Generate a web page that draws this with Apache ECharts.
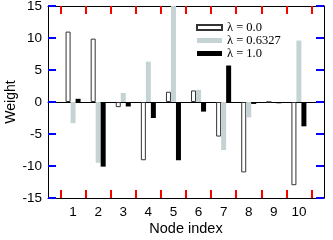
<!DOCTYPE html>
<html>
<head>
<meta charset="utf-8">
<script src="https://cdn.jsdelivr.net/npm/echarts@6/dist/echarts.min.js"></script>
<style>
  html, body { margin: 0; padding: 0; background: #fff; }
  #main { width: 333px; height: 240px; }
</style>
</head>
<body>
<div id="main"></div>
<script>
// node positions 0..11, bars live on 1..10
var nodes = ['0', '1', '2', '3', '4', '5', '6', '7', '8', '9', '10', '11'];
var seriesNames = ['λ = 0.0', 'λ = 0.6327', 'λ = 1.0'];
var w00 = [null, 11.0, 9.9, -0.8, -9.1, 1.6, 1.8, -5.4, -11.0, 0.0, -13.0, null];
var w06 = [null, -3.3, -9.5, 1.4, 6.3, 15.5, 1.9, -7.5, -2.4, 0.0, 9.6, null];
var w10 = [null, 0.5, -10.1, -0.7, -2.5, -9.1, -1.5, 5.7, -0.3, -0.2, -3.8, null];
// half steps for the frame axes: labels on whole numbers, ticks between them
var halfSteps = ['0', '0.5', '1', '1.5', '2', '2.5', '3', '3.5', '4', '4.5', '5', '5.5',
  '6', '6.5', '7', '7.5', '8', '8.5', '9', '9.5', '10', '10.5', '11'];
var xLabels = [1, 2, 3, 4, 5, 6, 7, 8, 9, 10];
var xTickPos = [0.5, 1.5, 2.5, 3.5, 4.5, 5.5, 6.5, 7.5, 8.5, 9.5, 10.5];
var yTicks = [-15, -10, -5, 0, 5, 10, 15];

var font = 'Liberation Sans, Arial, sans-serif';
var chart = echarts.init(document.getElementById('main'));

// hidden helper axes: their range leaves out 0, so an axis "on zero" of them
// gets clamped to the matching edge of the plot
var edgeAxis = function (lo, hi) {
  return { type: 'value', min: lo, max: hi, show: false };
};

var tickAxis = function (pos, labels, zeroIdx) {
  return {
    type: 'category', position: pos, data: halfSteps, boundaryGap: false,
    axisLine: { show: true, onZero: true, onZeroAxisIndex: zeroIdx, lineStyle: { color: '#000', width: 1 } },
    axisTick: {
      show: true, inside: true, length: 8, lineStyle: { color: 'red', width: 2 },
      interval: function (i, v) { return xTickPos.indexOf(Number(v)) >= 0; }
    },
    splitLine: { show: false },
    axisLabel: {
      show: labels, color: '#000', fontFamily: font, fontSize: 13.5, margin: 7,
      interval: function (i, v) { return xLabels.indexOf(Number(v)) >= 0; }
    }
  };
};

var yAx = function (pos, labels, zeroIdx) {
  return {
    type: 'value', position: pos, min: yTicks[0], max: yTicks[yTicks.length - 1], interval: 5,
    axisLine: { show: true, onZero: true, onZeroAxisIndex: zeroIdx, lineStyle: { color: '#000', width: 1 } },
    axisTick: { show: true, inside: true, length: 8, lineStyle: { color: 'blue', width: 2 } },
    splitLine: { show: false },
    axisLabel: { show: labels, color: '#000', fontFamily: font, fontSize: 13.5, margin: 6 },
    name: labels ? 'Weight' : '',
    nameLocation: 'middle', nameGap: 30, nameRotate: 90, nameMoveOverlap: false,
    nameTextStyle: { color: '#000', fontFamily: font, fontSize: 14 }
  };
};

var bottom = tickAxis('bottom', true, 2);
bottom.name = 'Node index';
bottom.nameLocation = 'middle';
bottom.nameGap = 23;
bottom.nameMoveOverlap = false;
bottom.nameTextStyle = { color: '#000', fontFamily: font, fontSize: 14.5, verticalAlign: 'top' };

var option = {
  animation: false,
  grid: { left: 48, right: 9, top: 6, bottom: 42, outerBoundsMode: 'none' },
  legend: {
    orient: 'vertical', left: 196, top: 21, padding: 0,
    itemWidth: 25, itemHeight: 5, itemGap: 0, icon: 'rect',
    textStyle: { fontFamily: 'Liberation Serif, Times New Roman, serif', fontSize: 12.5, lineHeight: 13, color: '#000' },
    data: seriesNames
  },
  xAxis: [
    {
      // bars sit on this one; its line is the zero line
      type: 'category', data: nodes, boundaryGap: false,
      axisLine: { show: true, onZero: true, onZeroAxisIndex: 0, lineStyle: { color: '#000', width: 1 } },
      axisTick: { show: false }, axisLabel: { show: false }, splitLine: { show: false }
    },
    bottom,
    tickAxis('top', false, 3),
    edgeAxis(1, 2),
    edgeAxis(-2, -1)
  ],
  yAxis: [
    yAx('left', true, 3),
    yAx('right', false, 4),
    edgeAxis(1, 2),
    edgeAxis(-2, -1)
  ],
  series: [
    {
      name: seriesNames[0], type: 'bar', data: w00, barWidth: 5, barGap: '0%',
      itemStyle: { color: '#fff', borderColor: '#333', borderWidth: 1 }
    },
    {
      name: seriesNames[1], type: 'bar', data: w06, barWidth: 5, barGap: '0%',
      itemStyle: { color: '#c6d3d5' }
    },
    {
      name: seriesNames[2], type: 'bar', data: w10, barWidth: 5, barGap: '0%',
      itemStyle: { color: '#000' }
    }
  ]
};
chart.setOption(option);
</script>
</body>
</html>
